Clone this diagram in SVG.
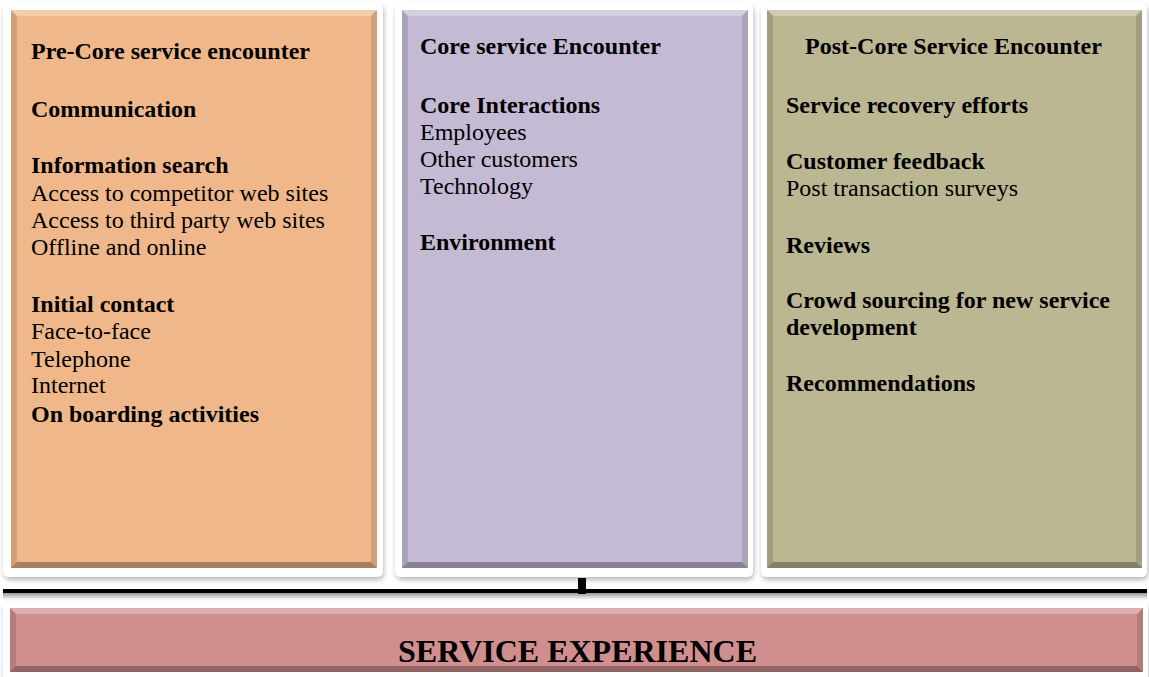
<svg xmlns="http://www.w3.org/2000/svg" width="1149" height="677" viewBox="0 0 1149 677">
<defs>
<filter id="sh" x="-5%" y="-5%" width="110%" height="110%">
<feDropShadow dx="1" dy="3" stdDeviation="2.5" flood-color="#000" flood-opacity="0.28"/>
</filter>
<linearGradient id="lineShadow" x1="0" y1="0" x2="0" y2="1">
<stop offset="0" stop-color="#9a9a9a"/>
<stop offset="1" stop-color="#ffffff"/>
</linearGradient>
</defs>
<style>
.frame{fill:#fff;filter:url(#sh)}
.t{font-family:"Liberation Serif","Times New Roman",serif;font-size:24px;fill:#000}
.b{font-weight:bold}
.hi{fill:#fff;fill-opacity:0.3}
.lo{fill:#000;fill-opacity:0.3}
.side{fill:#000;fill-opacity:0.13}
</style>
<rect width="1149" height="677" fill="#fff"/>

<g id="pre-core">
<rect class="frame" x="3" y="3" width="380" height="574" rx="6"/>
<rect x="11" y="10" width="366" height="558" fill="#F0B88A"/>
<polygon class="hi" points="11,10 377,10 371,16 17,16"/>
<polygon class="lo" points="11,568 377,568 371,562 17,562"/>
<polygon class="side" points="11,10 17,16 17,562 11,568"/>
<polygon class="side" points="377,10 371,16 371,562 377,568"/>
<text class="t b" x="31" y="59">Pre-Core service encounter</text>
<text class="t b" x="31" y="117">Communication</text>
<text class="t b" x="31" y="173">Information search</text>
<text class="t" x="31" y="201">Access to competitor web sites</text>
<text class="t" x="31" y="228">Access to third party web sites</text>
<text class="t" x="31" y="255">Offline and online</text>
<text class="t b" x="31" y="312">Initial contact</text>
<text class="t" x="31" y="339">Face-to-face</text>
<text class="t" x="31" y="367">Telephone</text>
<text class="t" x="31" y="393">Internet</text>
<text class="t b" x="31" y="422">On boarding activities</text>
</g>

<g id="core">
<rect class="frame" x="395" y="3" width="358" height="574" rx="6"/>
<rect x="402" y="10" width="346" height="558" fill="#C4BAD4"/>
<polygon class="hi" points="402,10 748,10 742,16 408,16"/>
<polygon class="lo" points="402,568 748,568 742,562 408,562"/>
<polygon class="side" points="402,10 408,16 408,562 402,568"/>
<polygon class="side" points="748,10 742,16 742,562 748,568"/>
<text class="t b" x="420" y="54">Core service Encounter</text>
<text class="t b" x="420" y="113">Core Interactions</text>
<text class="t" x="420" y="140">Employees</text>
<text class="t" x="420" y="167">Other customers</text>
<text class="t" x="420" y="194">Technology</text>
<text class="t b" x="420" y="250">Environment</text>
</g>

<g id="post-core">
<rect class="frame" x="761" y="3" width="386" height="574" rx="6"/>
<rect x="767" y="10" width="375" height="558" fill="#BBB792"/>
<polygon class="hi" points="767,10 1142,10 1136,16 773,16"/>
<polygon class="lo" points="767,568 1142,568 1136,562 773,562"/>
<polygon class="side" points="767,10 773,16 773,562 767,568"/>
<polygon class="side" points="1142,10 1136,16 1136,562 1142,568"/>
<text class="t b" x="953.5" y="54" text-anchor="middle">Post-Core Service Encounter</text>
<text class="t b" x="786" y="113">Service recovery efforts</text>
<text class="t b" x="786" y="169">Customer feedback</text>
<text class="t" x="786" y="196">Post transaction surveys</text>
<text class="t b" x="786" y="253">Reviews</text>
<text class="t b" x="786" y="308">Crowd sourcing for new service</text>
<text class="t b" x="786" y="335">development</text>
<text class="t b" x="786" y="391">Recommendations</text>
</g>

<g id="connectors">
<rect x="3" y="593" width="1144" height="7" fill="url(#lineShadow)"/>
<rect x="3" y="589" width="1144" height="4" fill="#000"/>
<rect x="578" y="578" width="8" height="16" fill="#000"/>
</g>

<g id="service-experience">
<rect class="frame" x="3" y="601" width="1145" height="80" rx="6"/>
<rect x="10" y="608" width="1133" height="64" fill="#D08F8E"/>
<polygon class="hi" points="10,608 1143,608 1137,614 16,614"/>
<polygon class="lo" points="10,672 1143,672 1137,666 16,666"/>
<polygon class="side" points="10,608 16,614 16,666 10,672"/>
<polygon class="side" points="1143,608 1137,614 1137,666 1143,672"/>
<text class="t b" x="577.5" y="662" text-anchor="middle" style="font-size:32px">SERVICE EXPERIENCE</text>
</g>
</svg>
